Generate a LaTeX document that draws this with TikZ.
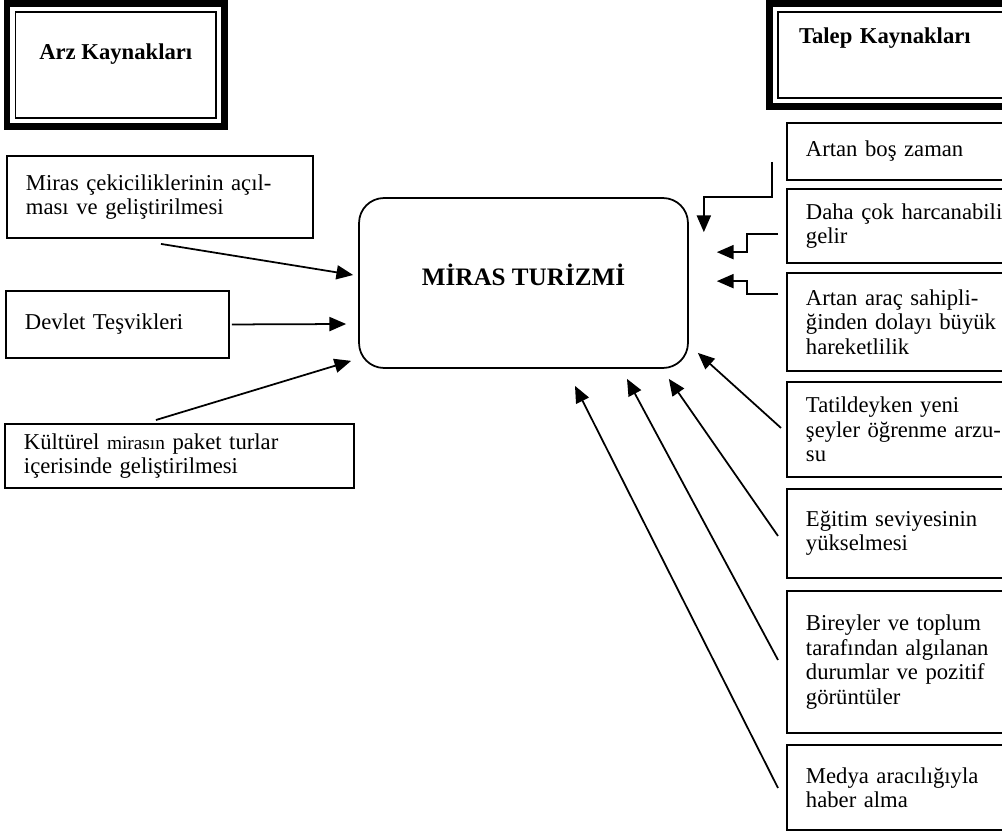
\documentclass[tikz,border=0pt]{standalone}
\usepackage{fontspec}
\setmainfont{Liberation Serif}
\usetikzlibrary{arrows.meta, positioning}
\newcommand{\metin}{\fontsize{12.9pt}{13.9pt}\selectfont}
\newcommand{\kucukmetin}{\fontsize{11pt}{13.9pt}\selectfont}

\begin{document}
\begin{tikzpicture}[x=0.02cm, y=-0.02cm, >={Triangle[length=9.5pt, width=8pt]}]

    % --- Stiller ---
    \tikzset{
        kutu/.style={rectangle, draw=black, line width=1.1pt, anchor=north west, align=left, inner xsep=0.38cm, inner ysep=0pt, text width=4.24cm, font=\metin},
        cerceve/.style={rectangle, draw=black, line width=3.8pt, outer sep=0pt, font=\metin\bfseries, text height=9pt},
        ince/.style={draw=black, line width=1pt},
        merkezkutu/.style={rectangle, draw=black, line width=1pt, rounded corners=0.5cm, minimum width=6.58cm, minimum height=3.4cm, font=\fontsize{14.3pt}{16pt}\selectfont\bfseries, text height=10pt, text depth=7.7pt},
        ok/.style={->, line width=1pt}
    }

    \useasboundingbox (0,0) rectangle (1002,832);
    \clip (0,0) rectangle (1002,832);

    % --- Başlıklar ---
    \node[cerceve, minimum width=4.35cm, minimum height=2.46cm, text depth=15.8pt] (arz) at (115.75,65) {Arz Kaynakları};
    \draw[ince] ([shift={(8.5,8.5)}]arz.north west) rectangle ([shift={(-8.5,-8.5)}]arz.south east);

    \node[cerceve, align=left, inner xsep=0.59cm, text width=4.23cm, minimum height=2.06cm, text depth=22.6pt] (talep) at (904.75,55) {Talep Kaynakları};
    \draw[ince] ([shift={(8.5,8.5)}]talep.north west) rectangle ([shift={(-8.5,-8.5)}]talep.south east);

    % --- Merkez ---
    \node[merkezkutu] (merkez) at (523.5,283) {MİRAS TURİZMİ};

    % --- Arz kutuları ---
    \node[kutu, text width=5.36cm, minimum height=1.64cm] (miras) at (6,155) {Miras çekiciliklerinin açıl-\\ması ve geliştirilmesi};
    \node[kutu, text width=3.70cm, minimum height=1.34cm] (devlet) at (5,290) {Devlet Teşvikleri};
    \node[kutu, text width=6.22cm, minimum height=1.28cm] (kultur) at (4,423) {Kültürel {\kucukmetin mirasın} paket turlar\\içerisinde geliştirilmesi};

    % --- Talep kutuları ---
    \node[kutu, minimum height=1.14cm] (bos)    at (786,122) {Artan boş zaman};
    \node[kutu, minimum height=1.48cm] (gelir)  at (786,188) {Daha çok harcanabilir\\gelir};
    \node[kutu, minimum height=1.96cm] (arac)   at (786,272) {Artan araç sahipli-\\ğinden dolayı büyük\\hareketlilik};
    \node[kutu, minimum height=1.90cm] (tatil)  at (786,381) {Tatildeyken yeni\\şeyler öğrenme arzu-\\su};
    \node[kutu, minimum height=1.78cm] (egitim) at (786,488) {Eğitim seviyesinin\\yükselmesi};
    \node[kutu, minimum height=2.84cm] (birey)  at (786,590) {Bireyler ve toplum\\tarafından algılanan\\durumlar ve pozitif\\görüntüler};
    \node[kutu, minimum height=1.70cm] (medya)  at (786,744) {Medya aracılığıyla\\haber alma};

    % --- Oklar (sol) ---
    \draw[ok] ([shift={(1,5)}]miras.south) -- ([shift={(-5,-8)}]merkez.west);
    \draw[ok] ([shift={(2,0)}]devlet.east) -- ([shift={(-12,41)}]merkez.west);
    \draw[ok] ([shift={(-23.5,-3)}]kultur.north) -- ([shift={(-7,-8)}]merkez.south west);

    % --- Oklar (sağ) ---
    \draw[ok] ([shift={(-14,10.5)}]bos.west) |- ([shift={(15,0)}]merkez.north east) -- ([shift={(15,35)}]merkez.north east);
    \draw[ok] ([shift={(-8,8)}]gelir.west) -- ++(-31,0) |- ([shift={(28,55)}]merkez.north east);
    \draw[ok] ([shift={(-8,-28)}]arac.west) -- ++(-31,0) |- ([shift={(28,84)}]merkez.north east);
    \draw[ok] ([shift={(-5,-1.5)}]tatil.west) -- ([shift={(9,-16)}]merkez.south east);
    \draw[ok] ([shift={(-8,2.5)}]egitim.west) -- ([shift={(-20,10)}]merkez.south east);
    \draw[ok] ([shift={(-8,-2)}]birey.west) -- ([shift={(103.5,10)}]merkez.south);
    \draw[ok] ([shift={(-8,0.5)}]medya.west) -- ([shift={(51.5,17)}]merkez.south);

\end{tikzpicture}
\end{document}
